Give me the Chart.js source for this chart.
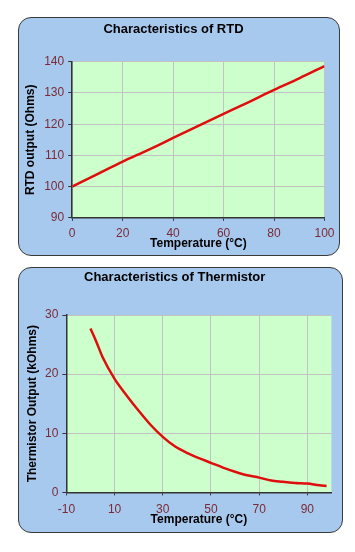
<!DOCTYPE html>
<html>
<head>
<meta charset="utf-8">
<script src="https://cdn.jsdelivr.net/npm/chart.js@4"></script>
<style>
  html, body { margin: 0; padding: 0; background: #ffffff; }
  body { width: 355px; height: 552px; position: relative; overflow: hidden; }
  .panel { position: absolute; box-sizing: border-box; background: #a8c9ee; border: 1.5px solid #3a3a3a; border-radius: 13px; }
  .holder { position: absolute; }
</style>
</head>
<body>
<div class="panel" style="left:18px;top:17px;width:322px;height:239px;"></div>
<div class="holder" style="left:18px;top:17px;width:322px;height:239px;"><canvas id="rtd"></canvas></div>
<div class="panel" style="left:18px;top:267px;width:325px;height:266px;"></div>
<div class="holder" style="left:18px;top:267px;width:325px;height:266px;"><canvas id="therm"></canvas></div>
<script>
// ---- data ----
const rtdTitle = 'Characteristics of RTD';
const rtdTemps = [0, 10, 20, 30, 40, 50, 60, 70, 80, 90, 100];
const rtdOhms  = [100, 104, 108, 111.7, 115.6, 119.5, 123.3, 127.1, 131, 134.7, 138.6];
const rtdXTicks = [0, 20, 40, 60, 80, 100];
const rtdYTicks = [90, 100, 110, 120, 130, 140];

const thermTitle = 'Characteristics of Thermistor';
const thermTemps  = [0, 2.5, 5, 10, 15, 20, 25, 30, 35, 40, 45, 50, 55, 60, 65, 70, 75, 80, 85, 90, 95, 98];
const thermKOhms  = [27.7, 25.4, 22.9, 19.2, 16.4, 13.8, 11.4, 9.4, 7.8, 6.7, 5.8, 5.0, 4.2, 3.5, 2.9, 2.5, 2.0, 1.8, 1.6, 1.5, 1.2, 1.1];
const thermXTicks = [-10, 10, 30, 50, 70, 90];
const thermYTicks = [0, 10, 20, 30];

const xTitle = 'Temperature (°C)';
const rtdYTitle = 'RTD output (Ohms)';
const thermYTitle = 'Thermistor Output (kOhms)';

// ---- styling ----
Chart.defaults.font.family = "'Liberation Sans', Arial, sans-serif";
Chart.defaults.animation = false;
const tickColor = '#7a2a36';
const gridColor = '#c2c2c2';
const axisColor = '#333333';
const lineColor = '#e00d0d';

const plotBg = {
  id: 'plotBg',
  beforeDraw(chart) {
    const a = chart.chartArea, c = chart.ctx;
    c.save(); c.fillStyle = '#ccffcc';
    c.fillRect(a.left, a.top, a.right - a.left, a.bottom - a.top);
    c.restore();
  }
};

function setTicks(list) {
  return function (scale) { scale.ticks = list.map(v => ({ value: v })); };
}

function makeChart(id, cfg) {
  const pts = cfg.xs.map((x, i) => ({ x: x, y: cfg.ys[i] }));
  return new Chart(document.getElementById(id), {
    type: 'scatter',
    data: { datasets: [{ data: pts, showLine: true, borderColor: lineColor, borderWidth: 2.5,
      pointRadius: 0, cubicInterpolationMode: 'monotone', fill: false }] },
    options: {
      responsive: true, maintainAspectRatio: false,
      layout: { padding: { left: 0, right: cfg.padRight, top: 0, bottom: 0 } },
      plugins: {
        legend: { display: false }, tooltip: { enabled: false },
        title: { display: true, text: cfg.title, color: '#000', font: { size: 13, weight: 'bold' },
          padding: { top: cfg.titleTop, bottom: cfg.titleBottom } }
      },
      scales: {
        x: {
          type: 'linear', min: cfg.xMin, max: cfg.xMax,
          afterBuildTicks: setTicks(cfg.xTicks),
          ticks: { color: tickColor, font: { size: 12 }, padding: cfg.xTickPad, maxRotation: 0, autoSkip: false },
          grid: { color: gridColor, tickColor: axisColor, tickLength: 3, lineWidth: 1 },
          border: { color: axisColor, width: 1.5 },
          title: { display: true, text: xTitle, color: '#000', font: { size: 12, weight: 'bold' },
            padding: { top: 0, bottom: cfg.xTitleBottom } },
          afterFit(s) { s.height = cfg.xHeight; }
        },
        y: {
          type: 'linear', min: cfg.yMin, max: cfg.yMax,
          afterBuildTicks: setTicks(cfg.yTicks),
          ticks: { color: tickColor, font: { size: 12 }, padding: 4, autoSkip: false },
          grid: { color: gridColor, tickColor: axisColor, tickLength: 4, lineWidth: 1 },
          border: { color: axisColor, width: 1.5 },
          title: { display: true, text: cfg.yTitle, color: '#000', font: { size: 12, weight: 'bold' },
            padding: { top: cfg.yTitleTop, bottom: 0 } },
          afterFit(s) { s.width = cfg.yWidth; }
        }
      }
    },
    plugins: [plotBg]
  });
}

makeChart('rtd', {
  title: rtdTitle, xs: rtdTemps, ys: rtdOhms, xTicks: rtdXTicks, yTicks: rtdYTicks,
  xMin: 0, xMax: 100, yMin: 90, yMax: 140, yTitle: rtdYTitle,
  padRight: 11, titleTop: 4.5, titleBottom: 24.7, xHeight: 38.2, xTickPad: 5.5,
  xTitleBottom: 5, yWidth: 54.2, yTitleTop: 5.5
});

makeChart('therm', {
  title: thermTitle, xs: thermTemps, ys: thermKOhms, xTicks: thermXTicks, yTicks: thermYTicks,
  xMin: -10, xMax: 100, yMin: 0, yMax: 30, yTitle: thermYTitle,
  padRight: 11.6, titleTop: 2.2, titleBottom: 30.2, xHeight: 40.6, xTickPad: 7,
  xTitleBottom: 6, yWidth: 48.4, yTitleTop: 7.8
});
</script>
</body>
</html>
